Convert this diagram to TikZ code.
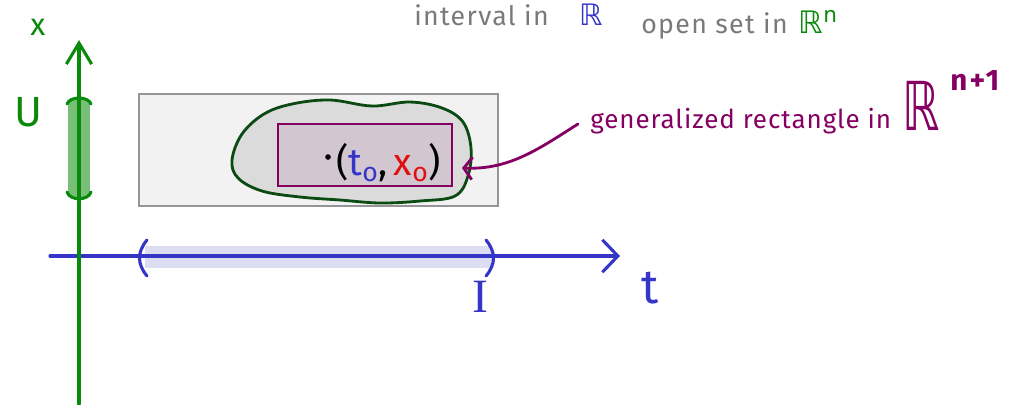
\documentclass[tikz,border=0pt]{standalone}
\usepackage{fontspec}
\setmainfont{Fira Sans}
\newfontfamily\symfont{DejaVu Sans}
\newfontfamily\serifI{Liberation Serif}
\usetikzlibrary{arrows.meta}
\definecolor{axgreen}{HTML}{0A8A0A}
\definecolor{blobgreen}{HTML}{0B4A12}
\definecolor{axblue}{HTML}{3535C8}
\definecolor{bandblue}{HTML}{DCDCF2}
\definecolor{rectpurple}{HTML}{850062}
\definecolor{rectfill}{HTML}{D2C6D0}
\definecolor{labgray}{HTML}{7A7A7A}
\definecolor{xred}{HTML}{E01010}
\tikzset{
  axis/.style={line width=2.2pt, line cap=round},
  hbarb/.style={-{Straight Barb[length=11pt,width=23pt,line width=2.2pt]}},
  vbarb/.style={-{Straight Barb[length=15pt,width=18pt,line width=2.2pt]}},
  hand/.style={font=\fontsize{19}{22}\selectfont\addfontfeature{LetterSpace=5}},
  big/.style={font=\fontsize{30}{34}\selectfont},
}
\begin{document}
\begin{tikzpicture}[x=0.025cm,y=-0.025cm]
\useasboundingbox (0,0) rectangle (1030,404);

% gray product box
\node[draw=labgray!80, line width=1.6pt, fill=black!5, minimum width=359*0.025cm, minimum height=112*0.025cm, inner sep=0pt] (box) at (318.5,150) {};

% open set (green blob)
\filldraw[draw=blobgreen, fill=black!14, line width=2pt] plot[smooth cycle, tension=0.6] coordinates
 {(232,160) (242,134) (264,114) (292,104) (330,100) (372,106) (410,102) (442,108) (463,122) (471,148) (468,176) (455,196) (420,201) (380,203) (340,200) (300,197) (262,191) (238,178)};

% generalized rectangle
\node[draw=rectpurple, fill=rectfill, line width=1.8pt, minimum width=174*0.025cm, minimum height=62*0.025cm, inner sep=0pt] (rect) at (365,155) {};
\fill (328,157) circle (2pt);
\node[anchor=west, inner sep=0pt, font=\fontsize{27}{29}\selectfont] (pt) at (336,163) {(\textcolor{axblue}{t\textsubscript{o}},\,\textcolor{xred}{x\textsubscript{o}})};

% green interval U on the vertical axis
\fill[axgreen!55] (68,100) rectangle (90,197);
\draw[axgreen, line width=2.2pt, line cap=round] (67,104) .. controls (70,96) and (88,96) .. (91,104);
\draw[axgreen, line width=2.2pt, line cap=round] (67,192) .. controls (70,201) and (88,201) .. (91,192);

% blue interval I on the horizontal axis
\fill[bandblue] (145,246) rectangle (492,268);
\draw[axblue, line width=2.2pt, line cap=round] (147,240) .. controls (137,252) and (137,264) .. (147,276);
\draw[axblue, line width=2.2pt, line cap=round] (486,240) .. controls (496,252) and (496,264) .. (486,276);

% axes
\coordinate (tstart) at (50,256);
\coordinate (tend) at (620,256);
\coordinate (xstart) at (79,404);
\coordinate (xend) at (79,40);
\draw[axis, axblue, hbarb] (tstart) -- (tend);
\draw[axis, axgreen, vbarb] (xstart) -- (xend);

% axis labels
\node[axgreen, font=\fontsize{22}{24}\selectfont] (xl) at (38,27) {x};
\node[axgreen, big] (ul) at (28,112) {U};
\node[axblue, font=\fontsize{34}{36}\selectfont] (tl) at (650,288) {t};
\node[axblue, font=\serifI\fontsize{34}{36}\selectfont] (il) at (480,297) {I};

% top labels
\node[anchor=base west, labgray, hand, inner sep=0pt] (ivl) at (414,25) {interval in\hspace{22pt}\textcolor{axblue}{\symfont\fontsize{21}{23}\selectfont ℝ}};
\node[anchor=base west, labgray, hand, inner sep=0pt] (osl) at (641,33) {open set in\hspace{8pt}\textcolor{axgreen}{\symfont\fontsize{22}{24}\selectfont ℝ\textsuperscript{n}}};

% annotation of the rectangle
\node[anchor=base west, rectpurple, inner sep=0pt, font=\fontsize{18.5}{21}\selectfont\addfontfeature{LetterSpace=3.5}] (gl) at (590,128) {generalized rectangle in};
\node[anchor=base west, rectpurple, inner sep=0pt, xscale=0.7, transform shape, font=\symfont\fontsize{48}{50}\selectfont] (rr) at (902,130) {ℝ};
\node[anchor=base west, rectpurple, inner sep=0pt, font=\bfseries\fontsize{21}{23}\selectfont\addfontfeature{LetterSpace=8}] (sup) at (950,90) {n+1};
\coordinate (gtail) at (578,124);
\coordinate (ghead) at (462,168);
\draw[rectpurple, line width=2pt, line cap=round, -{Straight Barb[length=6pt,width=16pt,line width=2pt]}]
  (gtail) .. controls (540,148) and (510,170) .. (ghead);
\end{tikzpicture}
\end{document}
